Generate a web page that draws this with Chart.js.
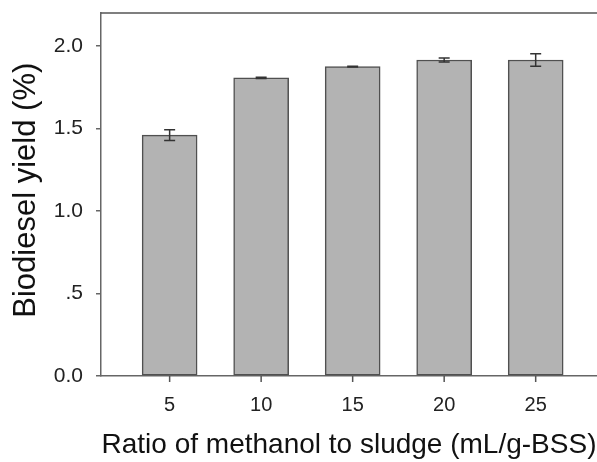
<!DOCTYPE html>
<html>
<head>
<meta charset="utf-8">
<script src="https://cdn.jsdelivr.net/npm/chart.js@4/dist/chart.umd.min.js"></script>
<style>
  html, body { margin: 0; padding: 0; background: #fff; }
  #wrap { width: 597px; height: 462px; }
</style>
</head>
<body>
<div id="wrap"><canvas id="bar_chart" width="597" height="462"></canvas></div>
<script>
// ratio of methanol to sludge (mL/g-BSS)
const ratios = [5, 10, 15, 20, 25];
const yieldMean = [1.46, 1.807, 1.875, 1.915, 1.915];
const yieldErr = [0.033, 0.004, 0.003, 0.012, 0.038];
const yTicks = [0, 0.5, 1.0, 1.5, 2.0];

// error bars, x tick marks, top frame line
const errorBars = {
    id: 'errorBars',
    afterDraw(chart) {
        const {ctx, scales: {x, y}, chartArea} = chart;
        ctx.save();
        ctx.strokeStyle = '#333';
        ctx.lineWidth = 1.5;
        ratios.forEach((r, i) => {
            const px = x.getPixelForValue(r);
            const hi = y.getPixelForValue(yieldMean[i] + yieldErr[i]);
            const lo = y.getPixelForValue(yieldMean[i] - yieldErr[i]);
            ctx.beginPath();
            ctx.moveTo(px, hi); ctx.lineTo(px, lo);
            ctx.moveTo(px - 5.5, hi); ctx.lineTo(px + 5.5, hi);
            ctx.moveTo(px - 5.5, lo); ctx.lineTo(px + 5.5, lo);
            ctx.stroke();
        });
        ctx.strokeStyle = '#555';
        ctx.beginPath();
        ratios.forEach((r) => {
            const px = x.getPixelForValue(r);
            ctx.moveTo(px, chartArea.bottom);
            ctx.lineTo(px, chartArea.bottom + 6);
        });
        // top frame
        ctx.moveTo(chartArea.left, chartArea.top);
        ctx.lineTo(chartArea.right, chartArea.top);
        ctx.stroke();
        ctx.restore();
    }
};

const ctx = document.getElementById('bar_chart').getContext('2d');
const bar_chart = new Chart(ctx, {
    type: 'bar',
    data: {
        datasets: [{
            data: ratios.map((r, i) => ({x: r, y: yieldMean[i]})),
            backgroundColor: '#b3b3b3',
            borderColor: '#505050',
            borderWidth: 1.5,
            borderSkipped: false,
            barThickness: 55,
        }]
    },
    options: {
        responsive: false,
        animation: false,
        layout: { padding: { top: 13, right: 0, left: 0, bottom: 0 } },
        plugins: {
            legend: { display: false },
            tooltip: { enabled: false },
        },
        scales: {
            x: {
                type: 'linear',
                min: 1.25,
                max: 28.35,
                offset: false,
                afterBuildTicks: (scale) => {
                    scale.ticks = ratios.map(v => ({value: v}));
                },
                afterFit: (scale) => {
                    scale.height = 86;
                    scale.paddingLeft = 0;
                    scale.paddingRight = 0;
                },
                grid: { offset: false, drawOnChartArea: false, drawTicks: true, tickLength: 5, tickColor: 'rgba(0,0,0,0)' },
                border: { display: true, color: '#666', width: 1.5 },
                ticks: {
                    color: '#222',
                    padding: 12,
                    maxRotation: 0,
                    font: { family: "'Liberation Sans', Arial, sans-serif", size: 20 },
                    callback: (v) => String(v),
                },
                title: {
                    display: true,
                    text: 'Ratio of methanol to sludge (mL/g-BSS)',
                    color: '#111',
                    padding: { top: 0, bottom: 0 },
                    font: { family: "'Liberation Sans', Arial, sans-serif", size: 28 },
                },
            },
            y: {
                min: 0,
                max: 2.2,
                afterBuildTicks: (scale) => {
                    scale.ticks = yTicks.map(v => ({value: v}));
                },
                afterFit: (scale) => {
                    scale.width = 101;
                    scale.paddingTop = 0;
                    scale.paddingBottom = 0;
                },
                grid: { drawOnChartArea: false, drawTicks: true, tickLength: 5, color: '#666', lineWidth: 1.5 },
                border: { display: true, color: '#666', width: 1.5 },
                ticks: {
                    color: '#222',
                    padding: 13,
                    font: { family: "'Liberation Sans', Arial, sans-serif", size: 21 },
                    callback: (v) => v === 0 ? '0.0' : (v < 1 ? '.5' : v.toFixed(1)),
                },
                title: {
                    display: true,
                    text: ' Biodiesel yield (%)',
                    color: '#111',
                    padding: { top: 8, bottom: 0 },
                    font: { family: "'Liberation Sans', Arial, sans-serif", size: 31 },
                },
            }
        }
    },
    plugins: [errorBars]
});
</script>
</body>
</html>
